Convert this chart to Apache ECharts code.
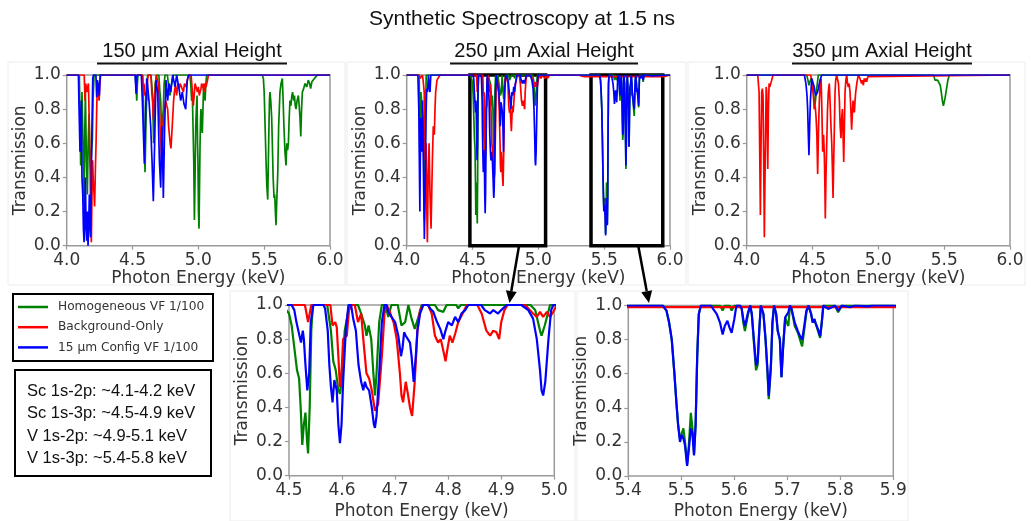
<!DOCTYPE html>
<html>
<head>
<meta charset="UTF-8">
<title>Synthetic Spectroscopy at 1.5 ns</title>
<script src="https://cdn.jsdelivr.net/npm/echarts@6/dist/echarts.min.js"></script>
<style>
html, body { margin: 0; padding: 0; background: #fff; }
#main { width: 1031px; height: 521px; }
</style>
</head>
<body>
<div id="main"></div>
<script>
// ---- series names ----
var names = ['Homogeneous VF 1/100', 'Background-Only', '15 \u03bcm Config VF 1/100'];
var colors = ['#008000', '#ff0000', '#0000ff'];

// ---- 150 um axial height: [photon energy keV, transmission] ----
var h150Homog = [[4.0,1],[4.096,1],[4.101,0.75],[4.106,0.47],[4.111,0.7],[4.116,0.9],[4.124,0.6],[4.132,0.2],[4.138,0.7],[4.142,0.89],[4.15,0.5],[4.157,0.3],[4.163,0.6],[4.17,0.77],[4.176,0.5],[4.182,0.45],[4.188,0.55],[4.195,0.62],[4.2,0.85],[4.208,1],
  [4.52,1],[4.527,0.93],[4.532,0.85],[4.537,0.95],[4.542,1],[4.577,1],[4.583,0.85],[4.587,0.7],[4.595,0.43],[4.603,0.75],[4.61,0.95],[4.615,1],[4.64,1],[4.653,0.88],[4.66,0.6],[4.665,0.7],[4.672,0.95],[4.684,1],[4.7,1],[4.708,0.9],[4.714,0.85],[4.72,0.7],[4.724,0.63],[4.729,0.75],[4.734,0.8],[4.74,0.95],[4.747,1],[4.765,1],[4.772,0.95],[4.78,0.9],[4.785,0.88],[4.791,0.92],[4.797,0.95],[4.81,1],
  [4.935,1],[4.942,0.95],[4.949,0.85],[4.954,0.9],[4.959,0.9],[4.965,0.5],[4.97,0.15],[4.975,0.4],[4.98,0.7],[4.985,0.8],[4.99,0.88],[4.994,0.6],[4.997,0.5],[5.001,0.2],[5.005,0.1],[5.009,0.35],[5.013,0.6],[5.017,0.75],[5.02,0.8],[5.025,0.7],[5.03,0.66],[5.035,0.8],[5.04,0.95],[5.045,0.92],[5.051,0.85],[5.057,0.95],[5.063,1],
  [5.485,1],[5.494,0.98],[5.5,0.9],[5.507,0.7],[5.514,0.5],[5.52,0.35],[5.527,0.27],[5.534,0.6],[5.54,0.85],[5.544,0.9],[5.55,0.85],[5.557,0.75],[5.562,0.6],[5.568,0.4],[5.575,0.28],[5.58,0.3],[5.585,0.2],[5.59,0.12],[5.595,0.25],[5.603,0.42],[5.61,0.7],[5.62,0.9],[5.628,0.95],[5.638,0.98],[5.644,0.85],[5.65,0.7],[5.658,0.55],[5.666,0.47],[5.672,0.6],[5.678,0.56],[5.684,0.6],[5.69,0.75],[5.696,0.85],[5.703,0.82],[5.71,0.88],[5.716,0.9],[5.724,0.85],[5.73,0.88],[5.736,0.82],[5.742,0.8],[5.75,0.85],[5.76,0.88],[5.766,0.82],[5.772,0.75],[5.778,0.64],[5.784,0.8],[5.79,0.9],[5.8,0.92],[5.81,0.95],[5.823,0.93],[5.835,0.97],[5.845,0.95],[5.853,0.92],[5.862,0.96],[5.873,0.95],[5.882,0.98],[5.894,0.97],[5.905,1],[6.0,1]];
var h150Bg = [[4.0,1],[4.133,1],[4.139,0.85],[4.145,0.95],[4.152,0.9],[4.157,0.9],[4.165,0.95],[4.172,0.7],[4.177,0.5],[4.182,0.2],[4.187,0.02],[4.192,0.3],[4.197,0.5],[4.203,0.35],[4.208,0.3],[4.212,0.23],[4.218,0.45],[4.223,0.6],[4.228,0.8],[4.233,0.95],[4.24,0.92],[4.246,0.85],[4.252,0.95],[4.258,1],
  [4.575,1],[4.582,0.9],[4.587,0.95],[4.592,0.88],[4.6,0.9],[4.608,0.85],[4.615,0.98],[4.62,1],[4.64,1],[4.646,0.9],[4.652,0.85],[4.658,0.74],[4.664,0.85],[4.671,0.9],[4.68,1],[4.69,1],[4.696,0.95],[4.703,0.85],[4.709,0.7],[4.716,0.6],[4.722,0.45],[4.728,0.6],[4.734,0.75],[4.742,0.8],[4.752,0.85],[4.76,0.82],[4.767,0.8],[4.774,0.7],[4.78,0.65],[4.786,0.6],[4.792,0.57],[4.798,0.65],[4.805,0.75],[4.812,0.85],[4.818,0.9],[4.826,0.94],[4.835,0.88],[4.845,0.95],[4.855,0.92],[4.861,0.95],[4.872,0.93],[4.886,0.9],[4.895,0.95],[4.905,0.93],[4.911,0.95],[4.925,1],
  [4.945,1],[4.955,0.9],[4.962,0.82],[4.968,0.88],[4.975,0.95],[4.985,0.96],[4.993,0.9],[5.0,0.93],[5.007,0.88],[5.013,0.87],[5.02,0.92],[5.025,0.95],[5.035,0.93],[5.043,0.9],[5.05,0.95],[5.058,0.93],[5.063,0.92],[5.07,0.97],[5.076,1],[6.0,1]];
var h150Cfg = [[4.0,1],[4.089,1],[4.094,0.8],[4.101,0.55],[4.106,0.75],[4.111,0.85],[4.116,0.4],[4.122,0.3],[4.127,0.1],[4.132,0.02],[4.137,0.2],[4.142,0.4],[4.147,0.1],[4.152,0.03],[4.157,0.2],[4.162,0.0],[4.167,0.1],[4.172,0.3],[4.177,0.15],[4.182,0.05],[4.187,0.4],[4.192,0.7],[4.198,0.98],[4.203,1],[4.222,1],[4.228,0.87],[4.233,0.97],[4.238,0.95],[4.243,0.9],[4.248,0.88],[4.254,1],
  [4.52,1],[4.527,0.89],[4.533,1],[4.567,1],[4.577,0.8],[4.59,0.48],[4.6,0.8],[4.608,0.98],[4.613,0.95],[4.625,0.85],[4.638,0.7],[4.648,0.5],[4.658,0.26],[4.668,0.6],[4.678,0.97],[4.691,0.9],[4.704,0.5],[4.714,0.34],[4.72,0.6],[4.724,0.7],[4.729,0.5],[4.734,0.28],[4.744,0.7],[4.754,0.97],[4.767,0.85],[4.777,0.95],[4.79,0.9],[4.805,1],[4.823,0.93],[4.835,1],[4.853,0.92],[4.866,0.85],[4.878,0.9],[4.891,0.83],[4.904,0.8],[4.916,0.97],[4.927,1],[6.0,1]];

// ---- 250 um axial height (also shown in the two zoomed panels) ----
var h250Homog = [[4.0,1],[4.095,1],[4.101,0.4],[4.108,0.9],[4.128,0.7],[4.134,0.15],[4.14,0.5],[4.148,1],
  [4.485,1],[4.495,0.97],[4.5,0.95],[4.505,0.88],[4.51,0.75],[4.515,0.62],[4.519,0.57],[4.522,0.4],[4.525,0.18],[4.528,0.3],[4.531,0.37],[4.534,0.2],[4.536,0.13],[4.539,0.4],[4.542,0.85],[4.545,1],
  [4.572,1],[4.579,0.85],[4.5835,0.67],[4.588,0.62],[4.593,0.5],[4.596,0.48],[4.599,0.55],[4.605,0.85],[4.612,0.97],[4.617,1],
  [4.63,1],[4.636,0.95],[4.643,0.88],[4.646,0.82],[4.65,0.88],[4.655,0.8],[4.659,0.6],[4.662,0.47],[4.665,0.6],[4.67,0.9],[4.675,1],
  [4.682,1],[4.687,0.93],[4.693,1],[4.705,1],[4.712,0.88],[4.719,0.9],[4.725,1],[4.731,0.92],[4.737,0.86],[4.744,0.93],[4.75,1],
  [4.775,1],[4.781,0.97],[4.791,0.96],[4.797,1],[4.815,1],[4.819,0.98],[4.824,1],
  [4.955,1],[4.964,0.97],[4.973,0.85],[4.976,0.82],[4.982,0.88],[4.992,1],
  [5.465,1],[5.472,0.97],[5.477,0.9],[5.482,0.8],[5.487,0.6],[5.491,0.42],[5.494,0.3],[5.4975,0.22],[5.501,0.25],[5.504,0.28],[5.507,0.2],[5.511,0.07],[5.514,0.17],[5.518,0.37],[5.521,0.28],[5.524,0.13],[5.527,0.3],[5.53,0.7],[5.533,0.95],[5.537,1],
  [5.573,1],[5.578,0.97],[5.582,1],[5.591,1],[5.595,0.97],[5.6,1],
  [5.611,1],[5.614,0.98],[5.617,0.9],[5.62,0.85],[5.623,0.9],[5.626,0.95],[5.63,1],[5.633,0.95],[5.637,0.78],[5.641,0.62],[5.644,0.65],[5.647,0.85],[5.65,1],
  [5.655,0.95],[5.659,0.8],[5.663,0.58],[5.665,0.45],[5.669,0.63],[5.672,0.9],[5.675,1],
  [5.679,0.95],[5.682,0.85],[5.686,0.8],[5.689,0.58],[5.692,0.75],[5.696,0.93],[5.699,0.9],[5.702,0.88],[5.705,1],
  [5.708,0.98],[5.714,0.88],[5.72,0.84],[5.724,0.8],[5.728,0.76],[5.732,0.86],[5.736,0.96],[5.74,1],
  [5.745,0.95],[5.748,0.9],[5.751,0.92],[5.753,0.9],[5.758,0.85],[5.762,0.81],[5.765,0.9],[5.768,1],
  [5.79,1],[5.796,0.96],[5.803,1],[6.0,1]];
var h250Bg = [[4.0,1],[4.095,1],[4.101,0.98],[4.12,1],[4.127,0.95],[4.133,0.9],[4.139,0.5],[4.148,0.6],[4.153,0.2],[4.157,0.02],[4.163,0.4],[4.17,0.6],[4.177,0.3],[4.185,0.1],[4.19,0.3],[4.195,0.5],[4.202,0.7],[4.21,0.65],[4.215,0.8],[4.22,0.9],[4.23,0.97],[4.24,0.96],[4.253,1],
  [4.53,1],[4.536,0.9],[4.542,1],
  [4.578,1],[4.582,0.88],[4.587,0.9],[4.59,0.87],[4.593,0.7],[4.596,0.52],[4.599,0.6],[4.602,0.8],[4.609,0.82],[4.613,0.97],[4.618,1],
  [4.624,1],[4.63,0.9],[4.636,0.95],[4.64,0.8],[4.646,0.6],[4.651,0.57],[4.656,0.5],[4.662,0.38],[4.668,0.42],[4.675,0.7],[4.68,0.95],[4.684,1],
  [4.69,0.96],[4.697,0.9],[4.703,0.8],[4.709,0.6],[4.712,0.47],[4.715,0.43],[4.72,0.55],[4.724,0.48],[4.728,0.4],[4.732,0.35],[4.737,0.55],[4.742,0.85],[4.747,0.97],[4.753,1],
  [4.762,1],[4.769,0.95],[4.775,0.82],[4.781,0.78],[4.786,0.8],[4.791,0.73],[4.795,0.67],[4.799,0.75],[4.803,0.82],[4.808,0.78],[4.813,0.83],[4.819,0.9],[4.829,0.96],[4.835,1],
  [4.855,1],[4.863,0.95],[4.872,0.85],[4.879,0.82],[4.885,0.85],[4.891,0.84],[4.896,0.8],[4.9,0.9],[4.906,0.97],[4.912,1],
  [4.945,1],[4.951,0.98],[4.96,0.95],[4.967,0.93],[4.973,0.96],[4.979,0.93],[4.986,0.96],[4.992,0.93],[4.998,0.96],[5.005,1],
  [5.02,0.98],[5.03,1],[5.05,0.98],[5.06,1],[5.07,0.98],[5.085,1],
  [5.3,1],[5.35,0.99],[5.95,0.99],[6.0,1]];
var h250Cfg = [[4.0,1],[4.085,1],[4.092,0.8],[4.1,0.2],[4.106,0.75],[4.113,0.55],[4.12,0.85],[4.127,0.45],[4.134,0.04],[4.14,0.3],[4.146,0.75],[4.152,0.92],[4.158,0.9],[4.165,1],[4.172,0.92],[4.177,0.9],[4.183,1],
  [4.505,1],[4.51,0.97],[4.514,0.9],[4.519,0.83],[4.5226,0.78],[4.526,0.85],[4.528,0.8],[4.531,0.65],[4.5345,0.5],[4.538,0.6],[4.541,0.9],[4.546,1],
  [4.565,1],[4.568,0.98],[4.573,0.85],[4.576,0.65],[4.579,0.52],[4.582,0.43],[4.5855,0.56],[4.59,0.5],[4.593,0.3],[4.596,0.19],[4.599,0.3],[4.602,0.55],[4.607,0.85],[4.612,1],
  [4.617,1],[4.621,0.92],[4.626,0.85],[4.631,0.65],[4.636,0.55],[4.64,0.5],[4.643,0.55],[4.646,0.52],[4.651,0.5],[4.656,0.4],[4.66,0.3],[4.662,0.28],[4.665,0.35],[4.67,0.6],[4.675,0.9],[4.68,1],
  [4.684,1],[4.687,0.96],[4.693,0.93],[4.7,0.9],[4.706,0.82],[4.711,0.7],[4.714,0.75],[4.717,0.84],[4.72,0.82],[4.724,0.8],[4.728,0.78],[4.731,0.7],[4.735,0.55],[4.739,0.7],[4.742,0.85],[4.747,0.95],[4.753,1],
  [4.762,1],[4.766,0.98],[4.772,0.96],[4.779,0.9],[4.785,0.86],[4.791,0.8],[4.795,0.85],[4.8,0.9],[4.807,0.88],[4.813,0.93],[4.819,0.9],[4.825,0.95],[4.832,0.97],[4.838,1],
  [4.862,1],[4.869,0.97],[4.879,0.95],[4.885,0.97],[4.894,0.95],[4.9,0.97],[4.91,1],
  [4.938,1],[4.951,0.97],[4.96,0.92],[4.967,0.8],[4.973,0.62],[4.976,0.5],[4.979,0.47],[4.983,0.55],[4.989,0.8],[4.994,0.97],[4.998,1],
  [5.465,1],[5.472,0.97],[5.477,0.9],[5.482,0.8],[5.487,0.6],[5.491,0.42],[5.494,0.3],[5.4975,0.2],[5.501,0.24],[5.504,0.22],[5.507,0.18],[5.511,0.06],[5.514,0.15],[5.518,0.28],[5.521,0.25],[5.524,0.12],[5.527,0.3],[5.53,0.7],[5.533,0.95],[5.537,1],
  [5.556,1],[5.56,0.98],[5.567,0.95],[5.573,0.9],[5.578,0.83],[5.582,0.88],[5.587,0.91],[5.591,0.87],[5.595,0.84],[5.6,0.92],[5.604,1],
  [5.611,1],[5.614,0.98],[5.617,0.92],[5.62,0.88],[5.623,0.92],[5.626,0.96],[5.63,1],[5.633,0.95],[5.637,0.8],[5.641,0.65],[5.644,0.67],[5.647,0.85],[5.65,1],
  [5.655,0.95],[5.659,0.8],[5.663,0.6],[5.665,0.47],[5.669,0.65],[5.672,0.9],[5.675,1],
  [5.679,0.95],[5.682,0.85],[5.686,0.8],[5.689,0.58],[5.692,0.75],[5.696,0.93],[5.699,0.92],[5.702,0.96],[5.705,1],
  [5.708,0.98],[5.714,0.9],[5.72,0.85],[5.724,0.82],[5.728,0.8],[5.732,0.88],[5.736,0.97],[5.74,1],
  [5.745,0.95],[5.748,0.9],[5.751,0.92],[5.753,0.9],[5.758,0.86],[5.762,0.82],[5.765,0.9],[5.768,1],
  [5.777,0.98],[5.784,0.99],[5.79,1],[5.796,0.97],[5.803,1],[5.818,0.99],[5.828,1],[5.853,0.995],[5.86,1],[6.0,1]];

// ---- 350 um axial height ----
var h350Homog = [[4.0,1],[4.456,1],[4.465,0.97],[4.473,0.94],[4.48,0.96],[4.489,0.98],[4.5,0.95],[4.51,0.88],[4.516,0.8],[4.522,0.85],[4.532,0.92],[4.544,1],
  [5.42,1],[5.43,0.97],[5.44,0.98],[5.45,0.97],[5.46,0.97],[5.47,0.94],[5.478,0.9],[5.486,0.85],[5.494,0.82],[5.5,0.83],[5.508,0.87],[5.518,0.92],[5.528,0.97],[5.54,1],[6.0,1]];
var h350Bg = [[4.0,1],[4.084,1],[4.094,0.9],[4.104,0.18],[4.109,0.6],[4.114,0.9],[4.119,0.92],[4.124,0.88],[4.129,0.5],[4.134,0.05],[4.139,0.4],[4.144,0.7],[4.148,0.93],[4.152,0.9],[4.156,0.7],[4.16,0.45],[4.165,0.8],[4.17,0.95],[4.175,0.93],[4.18,0.92],[4.19,0.97],[4.2,1],
  [4.485,1],[4.494,0.97],[4.504,0.9],[4.514,0.8],[4.52,0.82],[4.527,0.75],[4.533,0.65],[4.539,0.42],[4.546,0.7],[4.552,0.85],[4.558,0.95],[4.565,0.98],[4.571,0.8],[4.577,0.55],[4.584,0.65],[4.59,0.52],[4.594,0.35],[4.597,0.16],[4.602,0.4],[4.608,0.6],[4.614,0.8],[4.62,0.9],[4.627,0.95],[4.633,0.85],[4.64,0.7],[4.646,0.6],[4.651,0.45],[4.656,0.28],[4.661,0.5],[4.666,0.7],[4.671,0.9],[4.676,0.97],[4.683,1],
  [4.691,1],[4.697,0.95],[4.704,0.85],[4.71,0.7],[4.716,0.63],[4.722,0.75],[4.727,0.8],[4.732,0.65],[4.737,0.49],[4.742,0.7],[4.747,0.9],[4.753,0.97],[4.76,1],[4.766,0.95],[4.772,0.93],[4.778,0.95],[4.785,0.9],[4.791,0.8],[4.797,0.68],[4.803,0.78],[4.808,0.85],[4.813,0.8],[4.818,0.78],[4.823,0.85],[4.828,0.9],[4.838,0.96],[4.848,1],[4.86,0.98],[4.873,0.95],[4.879,0.97],[4.886,0.94],[4.893,0.98],[4.899,0.96],[4.905,0.98],[4.911,0.96],[4.92,0.99],[4.929,1],[6.0,1]];
var h350Cfg = [[4.0,1],[4.438,1],[4.45,0.95],[4.458,0.88],[4.463,0.8],[4.468,0.65],[4.473,0.53],[4.478,0.7],[4.484,0.85],[4.494,0.98],[4.506,0.97],[4.513,0.93],[4.519,0.9],[4.525,0.88],[4.532,0.87],[4.538,0.9],[4.544,0.92],[4.557,0.97],[4.57,1],[6.0,1]];

// x ranges of the panels [min, max, interval], zoom boxes drawn on the 250 um panel
var xRanges = [[4.0, 6.0, 0.5], [4.0, 6.0, 0.5], [4.0, 6.0, 0.5], [4.5, 5.0, 0.1], [5.4, 5.9, 0.1]];
var zoomBoxes = [[4.48, 5.055], [5.4, 5.945]];
var panelTitles = ['150 \u03bcm Axial Height', '250 \u03bcm Axial Height', '350 \u03bcm Axial Height'];
var notes = ['Sc 1s-2p: ~4.1-4.2 keV', 'Sc 1s-3p: ~4.5-4.9 keV', 'V 1s-2p: ~4.9-5.1 keV', 'V 1s-3p: ~5.4-5.8 keV'];

var panelData = [
  [h150Homog, h150Bg, h150Cfg],
  [h250Homog, h250Bg, h250Cfg],
  [h350Homog, h350Bg, h350Cfg],
  [h250Homog, h250Bg, h250Cfg],
  [h250Homog, h250Bg, h250Cfg]
];

var grids = [
  {left: 66.7, top: 75, width: 263.3, height: 170.7},
  {left: 406.7, top: 75, width: 263.3, height: 170.7},
  {left: 746.7, top: 75, width: 263.3, height: 170.7},
  {left: 289, top: 305, width: 265.3, height: 170.7},
  {left: 628.3, top: 305.5, width: 265, height: 171}
];

var tickColor = '#333';
var frameColor = '#9a9a9a';

var xAxes = [], yAxes = [], series = [];
grids.forEach(function (g, i) {
  g.show = true;
  g.borderColor = frameColor;
  g.borderWidth = 1.5;
  var bottomRow = i >= 3;
  xAxes.push({
    type: 'value', gridIndex: i,
    min: xRanges[i][0], max: xRanges[i][1], interval: xRanges[i][2],
    name: 'Photon Energy (keV)', nameLocation: 'middle', nameGap: bottomRow ? 27 : 21,
    nameTextStyle: {fontFamily: 'DejaVu Sans', fontSize: 17, color: tickColor},
    axisLine: {show: false},
    axisTick: {show: true, length: 4, lineStyle: {color: frameColor, width: 1.2}},
    splitLine: {show: false},
    axisLabel: {margin: bottomRow ? 6 : 6, fontFamily: 'DejaVu Sans', fontSize: 17, color: tickColor,
      formatter: function (v) { return v.toFixed(1); }}
  });
  yAxes.push({
    type: 'value', gridIndex: i, min: 0, max: 1, interval: 0.2,
    name: 'Transmission', nameLocation: 'middle', nameGap: 38, nameRotate: 90,
    nameTextStyle: {fontFamily: 'DejaVu Sans', fontSize: 17, color: tickColor},
    axisLine: {show: false},
    axisTick: {show: true, length: 4, lineStyle: {color: frameColor, width: 1.2}},
    splitLine: {show: false},
    axisLabel: {margin: 6, fontFamily: 'DejaVu Sans', fontSize: 17, color: tickColor,
      formatter: function (v) { return v.toFixed(1); }}
  });
  panelData[i].forEach(function (d, k) {
    series.push({
      name: names[k], type: 'line', xAxisIndex: i, yAxisIndex: i,
      data: d, showSymbol: false, symbol: 'none', clip: true,
      lineStyle: {color: colors[k], width: bottomRow ? 2.2 : 1.7},
      itemStyle: {color: colors[k]},
      emphasis: {disabled: true}
    });
  });
});

// black zoom boxes on the 250 um panel
series.push({
  type: 'line', xAxisIndex: 1, yAxisIndex: 1, data: [], symbol: 'none',
  markArea: {
    silent: true,
    itemStyle: {color: 'rgba(0,0,0,0)', borderColor: '#000', borderWidth: 3.5},
    data: zoomBoxes.map(function (b) { return [{xAxis: b[0], yAxis: 0}, {xAxis: b[1], yAxis: 1}]; })
  }
});

var graphics = [];
// faint outlines of the pasted sub-figures
[[8, 62, 337, 223], [347, 62, 339, 223], [688, 62, 337, 223], [230, 291, 345, 230], [577, 291, 331, 230]].forEach(function (r) {
  graphics.push({type: 'rect', shape: {x: r[0], y: r[1], width: r[2], height: r[3]},
    style: {fill: 'none', stroke: '#ececec', lineWidth: 1}, z: 0});
});
graphics.push({type: 'text', x: 522, y: 19, style: {text: 'Synthetic Spectroscopy at 1.5 ns',
  font: '21px "Liberation Sans"', fill: '#111', textAlign: 'center', textVerticalAlign: 'middle'}});
var titleX = [192, 544, 882], underline = [[97, 287], [450, 638], [792, 972]];
panelTitles.forEach(function (t, i) {
  graphics.push({type: 'text', x: titleX[i], y: 51, style: {text: t,
    font: '20px "Liberation Sans"', fill: '#111', textAlign: 'center', textVerticalAlign: 'middle'}});
  graphics.push({type: 'line', shape: {x1: underline[i][0], y1: 63.5, x2: underline[i][1], y2: 63.5},
    style: {stroke: '#111', lineWidth: 2}});
});
// arrows from the zoom boxes to the zoomed panels
graphics.push({type: 'line', shape: {x1: 519, y1: 246, x2: 511.3, y2: 291}, style: {stroke: '#000', lineWidth: 2.5}, z: 10});
graphics.push({type: 'polygon', shape: {points: [[516.7, 291.9], [505.9, 290.3], [509.5, 303]]}, style: {fill: '#000'}, z: 10});
graphics.push({type: 'line', shape: {x1: 638.3, y1: 246, x2: 646.7, y2: 291}, style: {stroke: '#000', lineWidth: 2.5}, z: 10});
graphics.push({type: 'polygon', shape: {points: [[652.1, 290.2], [641.3, 292.2], [649, 303]]}, style: {fill: '#000'}, z: 10});
// legend box
graphics.push({type: 'rect', shape: {x: 13, y: 294, width: 200, height: 67}, style: {fill: '#fff', stroke: '#000', lineWidth: 2}});
names.forEach(function (n, k) {
  var y = 307 + k * 20.2;
  graphics.push({type: 'line', shape: {x1: 18, y1: y, x2: 48, y2: y}, style: {stroke: colors[k], lineWidth: 2.5}});
  graphics.push({type: 'text', x: 58, y: y, style: {text: n, font: '12.2px "DejaVu Sans"', fill: '#333',
    textAlign: 'left', textVerticalAlign: 'middle'}});
});
// line-range notes box
graphics.push({type: 'rect', shape: {x: 15, y: 370, width: 196, height: 106}, style: {fill: '#fff', stroke: '#000', lineWidth: 2}});
notes.forEach(function (n, k) {
  graphics.push({type: 'text', x: 27, y: 391 + k * 22.6, style: {text: n, font: '16.5px "Liberation Sans"', fill: '#111',
    textAlign: 'left', textVerticalAlign: 'middle'}});
});

var chart = echarts.init(document.getElementById('main'), null, {renderer: 'canvas'});
chart.setOption({
  animation: false,
  backgroundColor: '#fff',
  grid: grids,
  xAxis: xAxes,
  yAxis: yAxes,
  series: series,
  graphic: graphics
});
</script>
</body>
</html>
